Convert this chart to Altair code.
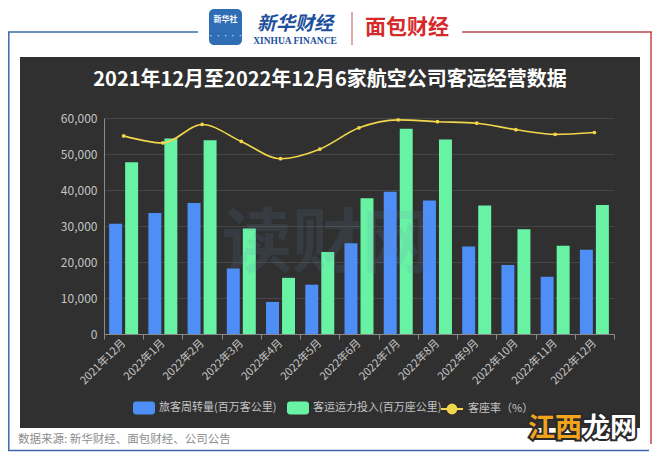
import altair as alt
import pandas as pd

months = ["2021年12月", "2022年1月", "2022年2月", "2022年3月", "2022年4月", "2022年5月",
          "2022年6月", "2022年7月", "2022年8月", "2022年9月", "2022年10月", "2022年11月", "2022年12月"]
passenger_turnover = [30600, 33600, 36400, 18200, 8900, 13700, 25200, 39500, 37100, 24300, 19200, 15900, 23400]
capacity = [47700, 54300, 53800, 29300, 15600, 22800, 37700, 57000, 54000, 35700, 29100, 24500, 35800]
load_factor = [64.2, 61.9, 67.9, 62.4, 56.8, 59.9, 66.8, 69.4, 68.8, 68.3, 66.2, 64.7, 65.3]

s1 = "旅客周转量(百万客公里)"
s2 = "客运运力投入(百万座公里)"
s3 = "客座率（%）"
title_text = "2021年12月至2022年12月6家航空公司客运经营数据"
source_text = "数据来源: 新华财经、面包财经、公司公告"

BLUE = "#4d8ef7"
GREEN = "#68f3a4"
YELLOW = "#f2d64b"
PANEL = "#303030"
LABEL = "#c4c4c4"
FONT = "Noto Sans CJK SC"

bars_df = pd.DataFrame(
    [{"month": m, "series": s1, "value": v} for m, v in zip(months, passenger_turnover)]
    + [{"month": m, "series": s2, "value": v} for m, v in zip(months, capacity)]
)
line_df = pd.DataFrame({"month": months, "rate": load_factor, "series": [s3] * len(months)})

one = alt.Data(values=[{}])

def rect(x, x2, y, y2, color):
    return alt.Chart(one).mark_rect(color=color).encode(
        x=alt.value(x), x2=alt.value(x2), y=alt.value(y), y2=alt.value(y2))

def rule(x, x2, y, y2, color, w=1.5):
    return alt.Chart(one).mark_rule(color=color, strokeWidth=w).encode(
        x=alt.value(x), x2=alt.value(x2), y=alt.value(y), y2=alt.value(y2))

def text(t, x, y, size, color, weight="normal", align="center", font=FONT, **kw):
    return alt.Chart(one).mark_text(text=t, fontSize=size, color=color, fontWeight=weight,
                                    align=align, baseline="middle", font=font, **kw).encode(
        x=alt.value(x), y=alt.value(y))

# white surroundings of the dark panel (chart background is the panel colour)
surround = [
    rect(-96, 548, -110, -61, "white"),
    rect(-96, 548, 310, 334, "white"),
    rect(-96, -84, -61, 310, "white"),
    rect(536, 548, -61, 310, "white"),
]
frame = [
    rule(-96, 94, -86, -86, "#3a6aa8"),
    rule(-95.2, -95.2, -86, 333, "#3a6aa8"),
    rule(-96, 545, 332.5, 332.5, "#3a6aa8"),
    rule(358, 548, -86, -86, "#c0484c"),
    rule(547, 547, -86, 326, "#c0484c"),
]

x_enc = alt.X("month:N", sort=months, title=None,
              scale=alt.Scale(paddingInner=0, paddingOuter=0),
              axis=alt.Axis(labelAngle=-45, labelAlign="right", labelBaseline="middle",
                            labelColor=LABEL, labelFontSize=11, labelFont=FONT, labelPadding=2,
                            domainColor="#8a8a8a", tickColor="#8a8a8a", tickSize=5,
                            tickBand="extent", grid=False, labelOverlap=False))

rect_path = ("M-0.73,-0.59H0.73A0.27,0.27,0,0,1,1,-0.32V0.32A0.27,0.27,0,0,1,0.73,0.59"
             "H-0.73A0.27,0.27,0,0,1,-1,0.32V-0.32A0.27,0.27,0,0,1,-0.73,-0.59Z")
line_path = "M-1,0H1M0.4,0A0.4,0.4,0,1,1,-0.4,0A0.4,0.4,0,1,1,0.4,0Z"

bars = alt.Chart(bars_df).mark_bar().encode(
    x=x_enc,
    xOffset=alt.XOffset("series:N", sort=[s1, s2],
                        scale=alt.Scale(paddingInner=0.19, paddingOuter=0.32)),
    y=alt.Y("value:Q", title=None,
            scale=alt.Scale(domain=[0, 60000], nice=False),
            axis=alt.Axis(values=[0, 10000, 20000, 30000, 40000, 50000, 60000], format=",.0f",
                          labelColor=LABEL, labelFontSize=12, labelFont=FONT, labelPadding=7,
                          domainColor="#8a8a8a", ticks=False, gridColor="#464646")),
    color=alt.Color("series:N", sort=[s1, s2],
                    scale=alt.Scale(domain=[s1, s2], range=[BLUE, GREEN]),
                    legend=alt.Legend(title=None, orient="none", legendX=29, legendY=279,
                                      direction="horizontal", symbolType=rect_path,
                                      symbolSize=484, symbolStrokeWidth=0, gridAlign="none",
                                      labelColor=LABEL, labelFontSize=11, labelFont=FONT,
                                      columnPadding=10, labelOffset=4, labelLimit=300)),
)

y_right = alt.Y("rate:Q", title=None,
                scale=alt.Scale(domain=[0, 70], nice=False),
                axis=alt.Axis(orient="right", values=[0, 10, 20, 30, 40, 50, 60, 70],
                              labelColor=LABEL, labelFontSize=12, labelFont=FONT, labelPadding=6,
                              domainColor="#8a8a8a", ticks=False, gridColor="#424242"))

line = alt.Chart(line_df).mark_line(strokeWidth=1.6, interpolate="monotone").encode(
    x=alt.X("month:N", sort=months),
    y=y_right,
    stroke=alt.Stroke("series:N", scale=alt.Scale(domain=[s3], range=[YELLOW]),
                      legend=alt.Legend(title=None, orient="none", legendX=336, legendY=279,
                                        symbolType=line_path, symbolSize=484,
                                        symbolFillColor=YELLOW, symbolStrokeColor=YELLOW,
                                        symbolStrokeWidth=2,
                                        labelColor=LABEL, labelFontSize=11, labelFont=FONT,
                                        labelOffset=4)),
)
points = alt.Chart(line_df).mark_point(filled=True, size=14, color=YELLOW, opacity=1).encode(
    x=alt.X("month:N", sort=months),
    y=alt.Y("rate:Q", scale=alt.Scale(domain=[0, 70], nice=False), axis=None),
)

right_layer = alt.layer(line, points)

watermark = text("读财网", 223, 128, 70, "#6a88b8", weight="bold", opacity=0.13)

decor = [
    text(title_text, 226, -38, 20, "white", weight="bold"),
    # logos
    alt.Chart(one).mark_rect(color="#2f6db5", cornerRadius=5).encode(
        x=alt.value(105), x2=alt.value(138), y=alt.value(-109), y2=alt.value(-73)),
    text("新华社", 121.5, -98, 8, "white", weight="bold"),
    text("· · · · ·", 121.5, -82, 6, "#bfe0ff"),
    text("新华财经", 191, -94, 19, "#1d4f9c", weight="bold", fontStyle="italic"),
    text("XINHUA FINANCE", 191, -77, 9.5, "#1d4f9c", weight="bold", font="Liberation Serif"),
    rule(248, 248, -106, -73, "#c87070", 1.2),
    text("面包财经", 303, -90, 21, "#d42a2a", weight="bold"),
    text(source_text, -86, 322, 11.5, "#8c8c8c", align="left"),
    text("江西", 451, 311, 27, "#2a2a2a", weight="bold", stroke="#2a2a2a", strokeWidth=4),
    text("龙网", 506, 311, 27, "#2a2a2a", weight="bold", stroke="#2a2a2a", strokeWidth=4),
    text("江西", 451, 311, 27, "#f2a31c", weight="bold"),
    text("龙网", 506, 311, 27, "white", weight="bold"),
]

chart = alt.layer(
    *surround, *frame, bars, right_layer, watermark, *decor
).resolve_scale(y="independent", color="independent").properties(
    width=510, height=216,
    background=PANEL,
    padding={"left": 96, "top": 110, "right": 38, "bottom": 118},
    autosize=alt.AutoSizeParams(type="none"),
).configure_view(stroke=None)

chart.save("out.html", embed_options={"renderer": "svg", "actions": False})
